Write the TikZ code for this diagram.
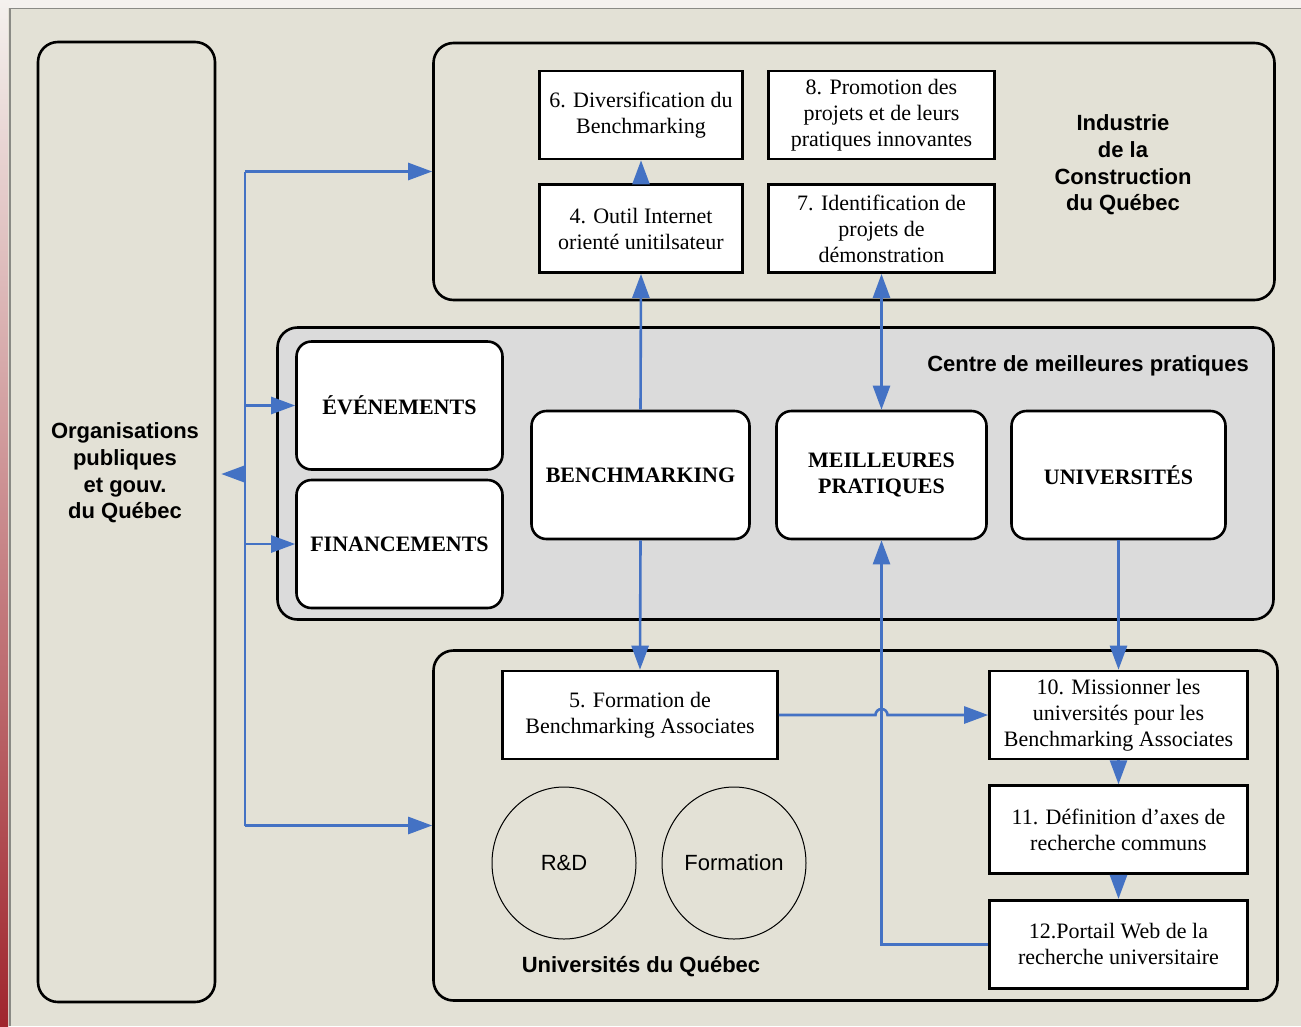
\documentclass[tikz,border=0pt]{standalone}
\usepackage{fontspec}
\setmainfont{Liberation Serif}
\setsansfont{Liberation Sans}
\usetikzlibrary{positioning,arrows.meta,shapes.geometric}
\definecolor{fondbeige}{HTML}{E3E1D6}
\definecolor{fondgris}{HTML}{DBDBDB}
\definecolor{lienbleu}{HTML}{4472C4}
\definecolor{cadregris}{HTML}{8A8A85}
\definecolor{margeclaire}{HTML}{F4F1EE}
\definecolor{margerose}{HTML}{D9A9AC}
\definecolor{margerouge}{HTML}{A0262E}

\begin{document}
\begin{tikzpicture}[
    x=1pt, y=-1pt,
    node distance=23pt,
    zone/.style={rectangle, draw, line width=2.6pt, rounded corners=20pt, inner sep=0pt},
    etape/.style={rectangle, draw, fill=white, line width=2.6pt, align=center, inner sep=0pt, minimum height=88pt, font=\fontsize{22}{26}\selectfont},
    pole/.style={rectangle, draw, fill=white, rounded corners=15pt, line width=2.6pt, align=center, inner sep=0pt, minimum height=128pt, font=\fontsize{22}{26.5}\selectfont\bfseries},
    titre/.style={align=center, inner sep=0pt, font=\fontsize{22}{26.7}\selectfont\sffamily\bfseries},
    rond/.style={ellipse, draw, line width=1pt, minimum width=144pt, minimum height=152pt, inner sep=0pt, font=\fontsize{22}{26}\selectfont\sffamily},
    lien/.style={draw=lienbleu, line width=2.6pt, -{Triangle[length=24pt,width=17pt]}},
    lien2/.style={lien, {Triangle[length=24pt,width=17pt]}-{Triangle[length=24pt,width=17pt]}},
]
\useasboundingbox (0,0) rectangle (1301,1026);

% Fond et cadre
\fill[fondbeige] (0,0) rectangle (1301,1026);
\fill[margeclaire] (0,0) rectangle (1301,8);
\shade[top color=margeclaire, middle color=margerose, bottom color=margerouge] (0,0) rectangle (8,1026);
\draw[cadregris, line width=1.5pt] (10,1026) -- (10,8.5) -- (1301,8.5);

% Zones
\node[zone, minimum width=177pt, minimum height=960pt] (orgs) at (126.5,522) {};
\node[zone, minimum width=841pt, minimum height=257pt] (industrie) at (854,171.5) {};
\node[zone, fill=fondgris, minimum width=996pt, minimum height=292pt] (centre) at (775.5,473.5) {};
\node[zone, minimum width=844pt, minimum height=350pt] (univ) at (855.5,825.5) {};

\node[titre] (lblorgs) at (125,473) {Organisations\\publiques\\et gouv.\\du Québec};
\node[titre] (lblind) at (1123,165) {Industrie\\de la\\Construction\\du Québec};
\node[titre, anchor=east] (lblcentre) at (1249,366) {Centre de meilleures pratiques};
\node[titre] (lbluniv) at (641,967) {Universités du Québec};

% Industrie
\node[etape, minimum width=203pt] (d6) at (641,115) {6. Diversification du\\Benchmarking};
\node[etape, minimum width=226pt] (d8) at (881.5,115) {8. Promotion des\\projets et de leurs\\pratiques innovantes};
\node[etape, minimum width=203pt, below=of d6] (d4) {4. Outil Internet\\orienté unitilsateur};
\node[etape, minimum width=226pt, below=of d8] (d7) {7. Identification de\\projets de\\démonstration};

% Centre
\node[pole, minimum width=206pt] (evt) at (399.5,405.5) {ÉVÉNEMENTS};
\node[pole, minimum width=206pt] (fin) at (399.5,544) {FINANCEMENTS};
\node[pole, minimum width=218pt] (bench) at (640.5,475) {BENCHMARKING};
\node[pole, minimum width=210pt] (mp) at (881.5,475) {MEILLEURES\\PRATIQUES};
\node[pole, minimum width=214pt] (univs) at (1118.5,475) {UNIVERSITÉS};

% Universites
\node[etape, minimum width=275pt] (d5) at (640,715) {5. Formation de\\Benchmarking Associates};
\node[etape, minimum width=258pt] (d10) at (1118.5,715) {10. Missionner les\\universités pour les\\Benchmarking Associates};
\node[etape, minimum width=258pt, below=24pt of d10] (d11) {11. Définition d’axes de\\recherche communs};
\node[etape, minimum width=258pt, below=24pt of d11] (d12) {12.Portail Web de la\\recherche universitaire};
\node[rond] (rd) at (564,863) {R\&D};
\node[rond] (form) at (734,863) {Formation};

% Liens
\coordinate (busx) at (245,0);
\coordinate (bushaut) at (industrie.west -| busx);
\coordinate (busbas) at (univ.west -| busx);
\coordinate (busmil) at (245,474);
\draw[lienbleu, line width=2.6pt] (bushaut) -- (busbas);
\draw[lien] (bushaut) -- (industrie.west);
\draw[lien] (evt.west -| busx) -- (evt.west);
\draw[lien] (fin.west -| busx) -- (fin.west);
\draw[lien] (busbas) -- (univ.west);
\draw[lien, shorten >=5pt] (busmil) -- (busmil -| orgs.east);

\draw[lien] (bench.north) -- (d4.south);
\draw[lien] (d4.north) -- (d6.south);
\draw[lien2] (mp.north) -- (d7.south);
\draw[lien] (bench.south) -- (d5.north);
\draw[lien] (univs.south) -- (d10.north);
\draw[lien] (d10.south) -- (d11.north);
\draw[lien] (d11.south) -- (d12.north);
\draw[lien] (d12.west) -- (d12.west -| mp.south) -- (mp.south);
\draw[lien] (d5.east) -- ([xshift=-6pt]d5.east -| mp.south) arc[start angle=180, end angle=360, radius=6] -- (d10.west);

\end{tikzpicture}
\end{document}
